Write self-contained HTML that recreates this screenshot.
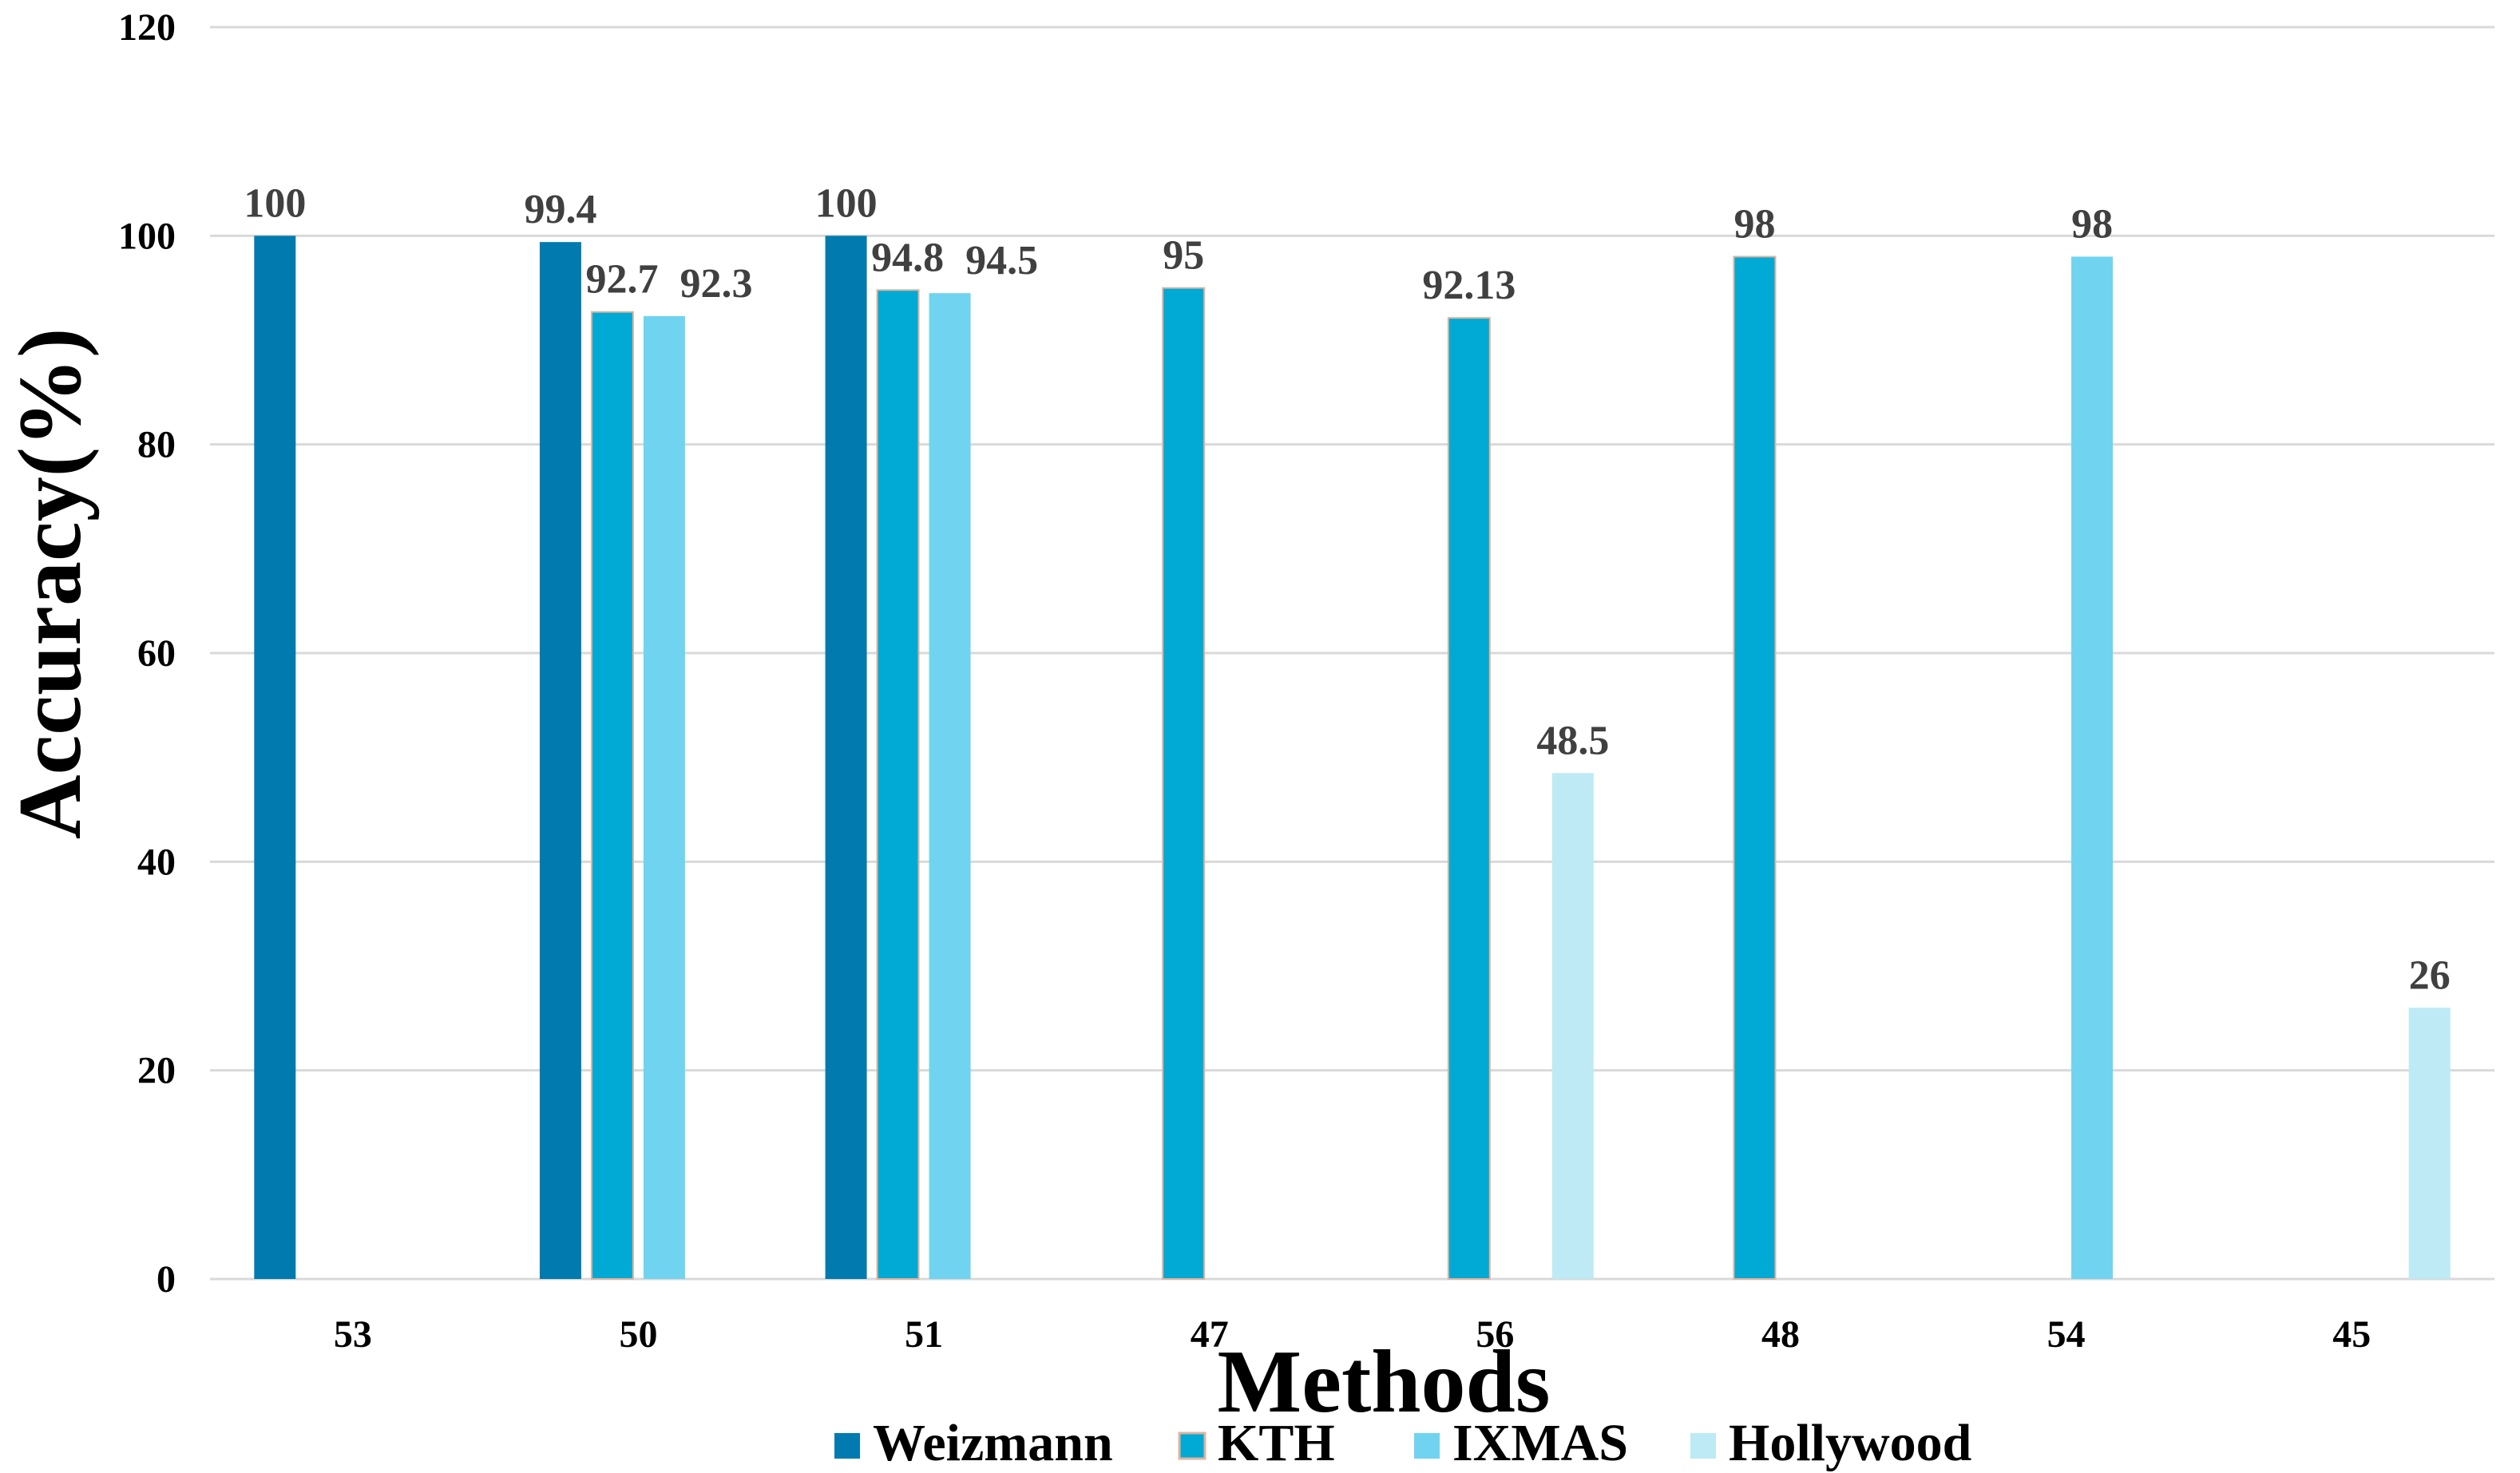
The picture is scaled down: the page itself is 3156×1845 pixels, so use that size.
<!DOCTYPE html>
<html><head><meta charset="utf-8"><style>
html,body{margin:0;padding:0;background:#fff;}
svg{display:block;font-family:"Liberation Serif",serif;font-weight:bold;}
</style></head><body>
<svg id="chart" width="3156" height="1845" viewBox="0 0 3156 1845" xmlns="http://www.w3.org/2000/svg">
<g id="grid"></g>
<g id="yticks"></g>
<g id="bars"></g>
<g id="labels"></g>
<g id="xticks"></g>
<text x="0" y="0" transform="translate(100,731) rotate(-90)" text-anchor="middle" font-size="112" fill="#000">Accuracy(%)</text>
<text x="1733" y="1768" text-anchor="middle" font-size="112" fill="#000">Methods</text>
<g id="legend"></g>
</svg>
<script>
const categories = ["53","50","51","47","56","48","54","45"];
const seriesNames = ["Weizmann","KTH","IXMAS","Hollywood"];
const weizmann = [100, 99.4, 100, null, null, null, null, null];
const kth = [null, 92.7, 94.8, 95, 92.13, 98, null, null];
const ixmas = [null, 92.3, 94.5, null, null, null, 98, null];
const hollywood = [null, null, null, null, 48.5, null, null, 26];
const yTicks = [0,20,40,60,80,100,120];

const series = [weizmann, kth, ixmas, hollywood];
const colors = ["#017baf","#00aad4","#70d3f0","#bdeaf5"];
const NS = "http://www.w3.org/2000/svg";
const L = 263, R = 3124, Y0 = 1602, Y120 = 34;
const y = v => Y0 - (v / 120) * (Y0 - Y120);
const gw = (R - L) / categories.length;
const xc = i => L + gw * (i + 0.5);
const barW = 52, step = 65;
function mk(tag, attrs, parent, text) {
  const e = document.createElementNS(NS, tag);
  for (const k in attrs) e.setAttribute(k, attrs[k]);
  if (text !== undefined) e.textContent = text;
  document.getElementById(parent).appendChild(e);
  return e;
}
yTicks.forEach(t => {
  const g = mk("line", {x1: L, x2: R, y1: y(t), y2: y(t), stroke: "#d9d9d9", "stroke-width": 3}, "grid");
  
  
  const tl = mk("text", {x: 220, y: y(t) + 16, "text-anchor": "end", "font-size": 48, fill: "#000"}, "yticks", String(t));
  
  
});
categories.forEach((c, i) => {
  const tl = mk("text", {x: xc(i), y: 1687, "text-anchor": "middle", "font-size": 48, fill: "#000"}, "xticks", c);
  
  
  series.forEach((s, k) => {
    const v = s[i];
    if (v === null) return;
    const bx = xc(i) - 1.5 * step + k * step - barW / 2;
    const attrs = {x: bx, y: y(v), width: barW, height: Y0 - y(v), fill: colors[k]};
    if (k === 1) { attrs.stroke = "#e0b4a0"; attrs["stroke-width"] = 2; }
    const b = mk("rect", attrs, "bars");
    
    
    let off = 0;
    if (i < 3 && k === 1) off = 12;
    if (i < 3 && k === 2) off = 65;
    const lb = mk("text", {x: bx + barW / 2 + off, y: y(v) - 24, "text-anchor": "middle", "font-size": 52, fill: "#404040"}, "labels", String(v));
    
    
  });
});
const legX = [1045, 1477, 1771, 2117];
seriesNames.forEach((n, k) => {
  const sw = mk("rect", {x: legX[k], y: 1795, width: 32, height: 32, fill: colors[k]}, "legend");
  if (k === 1) { sw.setAttribute("stroke", "#e0b4a0"); sw.setAttribute("stroke-width", 3); }
  
  
  const t = mk("text", {x: legX[k] + 48, y: 1829, "font-size": 66, fill: "#000"}, "legend", n);
  
  
});
</script>
</body></html>
